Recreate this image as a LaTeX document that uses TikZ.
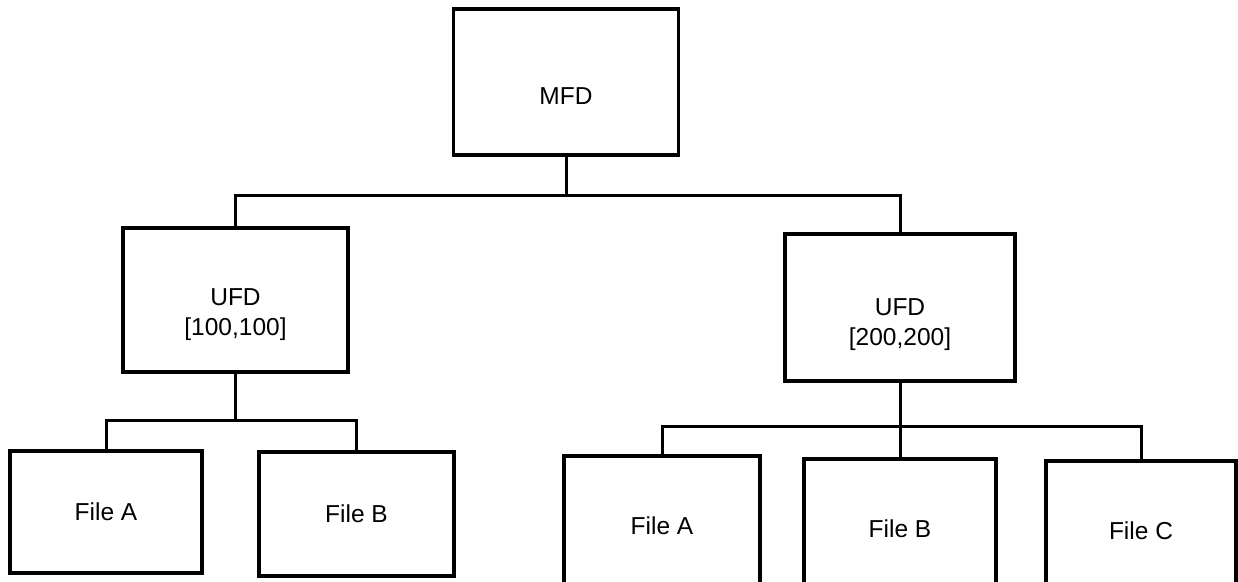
\documentclass[tikz,border=0pt]{standalone}
\usepackage{fontspec}
\setmainfont{Liberation Sans}
\begin{document}
\begin{tikzpicture}[x=1pt,y=-1pt,line join=miter]
\path[use as bounding box,fill=white] (0,0) rectangle (1238,581);
\tikzset{box/.style={draw=black,line width=3.4pt,align=center,font=\fontsize{24.5}{30}\selectfont},link/.style={draw=black,line width=3pt}}
\node[box,minimum width=225pt,minimum height=146pt,text height=44pt,text depth=0pt] (mfd) at (566,82) {MFD};
\node[box,minimum width=225pt,minimum height=144pt,text height=71pt,text depth=0pt] (ufdL) at (235.5,300) {UFD\\{}[100,100]};
\node[box,minimum width=230pt,minimum height=147pt,text height=75pt,text depth=0pt] (ufdR) at (900,307.5) {UFD\\{}[200,200]};
\node[box,minimum width=192pt,minimum height=122pt] (fileLA) at (106,512) {File A};
\node[box,minimum width=195pt,minimum height=124pt] (fileLB) at (356.5,514) {File B};
\node[box,minimum width=196pt,minimum height=139pt] (fileRA) at (662,525.5) {File A};
\node[box,minimum width=192pt,minimum height=139pt] (fileRB) at (900,528.5) {File B};
\node[box,minimum width=190pt,minimum height=139pt] (fileRC) at (1141,530.5) {File C};
\coordinate (busTop) at (566,195);
\coordinate (busL) at (235.5,420);
\coordinate (busR) at (900,426);
\draw[link] (mfd.south) -- (busTop);
\draw[link] (ufdL.north) |- (busTop) -| (ufdR.north);
\draw[link] (ufdL.south) -- (busL);
\draw[link] (fileLA.north) |- (busL) -| (fileLB.north);
\draw[link] (ufdR.south) -- (fileRB.north);
\draw[link] (fileRA.north) |- (busR) -| (fileRC.north);
\end{tikzpicture}
\end{document}
